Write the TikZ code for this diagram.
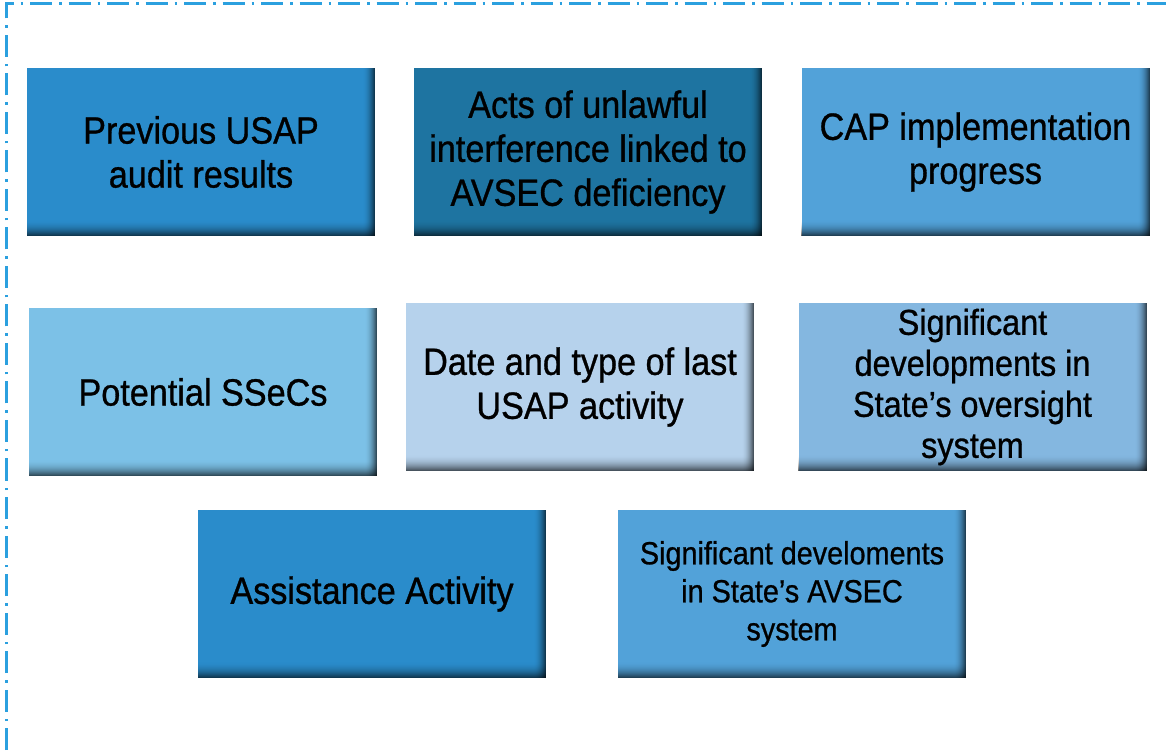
\documentclass[tikz,border=0pt]{standalone}
\usepackage{fontspec}
\setmainfont[FakeStretch=0.9, FakeBold=0.8]{Liberation Sans}
\definecolor{cMid}{HTML}{2A8CCB}
\definecolor{cDark}{HTML}{1E74A1}
\definecolor{cSky}{HTML}{52A2D9}
\definecolor{cLight}{HTML}{7CC1E7}
\definecolor{cPale}{HTML}{B6D2EC}
\definecolor{cSoft}{HTML}{84B7E0}
\definecolor{frameblue}{HTML}{2BA0DF}
\tikzset{
  panel/.style={fill=#1, draw=none, minimum width=348pt, minimum height=168pt, inner sep=0pt},
  labeltext/.style={align=center, text=black, inner sep=0pt},
  frameline/.style={draw=frameblue, line width=3pt, dash pattern=on 22pt off 7pt on 2.5pt off 7pt},
  big/.style={font=\fontsize{38}{44}\selectfont},
  mid/.style={font=\fontsize{36}{41}\selectfont},
  small/.style={font=\fontsize{32}{38}\selectfont}
}
\newcommand\panelbox[6]{%
  \node[panel=#4] (#1) at (#2,#3) {};
  \foreach \i in {1,...,12}{%
    \pgfmathsetmacro\op{0.6*(\i/12)^2}%
    \fill[black, opacity=\op] ([xshift={(\i-13)*1pt}]#1.north east) rectangle ([xshift={(\i-12)*1pt}]#1.south east);
  }
  \foreach \j in {1,...,16}{%
    \pgfmathsetmacro\op{0.6*(\j/16)^2}%
    \fill[black, opacity=\op] ([yshift={(17-\j)*1pt}]#1.south west) rectangle ([yshift={(16-\j)*1pt}]#1.south east);
  }
  \draw[white, opacity=0.5, line width=0.8pt] (#1.north west) -- (#1.north east);
  \node[labeltext, #5] (#1t) at (#1.center) {#6};
}
\begin{document}
\begin{tikzpicture}[x=1pt,y=1pt]
\useasboundingbox (0,0) rectangle (1166,750);
\fill[white] (0,0) rectangle (1166,750);
\coordinate (fb) at (6,0);
\coordinate (fc) at (6,746);
\coordinate (fr) at (1166,746);
\draw[frameline] (fb) -- (fc) -- (fr);

\panelbox{b1}{201}{598}{cMid}{big}{Previous USAP\\audit results}
\panelbox{b2}{588}{598}{cDark}{big}{Acts of unlawful\\interference linked to\\AVSEC deficiency}
\panelbox{b3}{975.5}{598}{cSky}{big}{CAP implementation\\progress}
\panelbox{b4}{203}{358}{cLight}{big}{Potential SSeCs}
\panelbox{b5}{580}{363}{cPale}{big}{Date and type of last\\USAP activity}
\panelbox{b6}{972.5}{363}{cSoft}{mid}{Significant\\developments in\\State’s oversight\\system}
\panelbox{b7}{372}{156}{cMid}{big}{Assistance Activity}
\panelbox{b8}{792}{156}{cSky}{small}{Significant develoments\\in State’s AVSEC\\system}
\end{tikzpicture}
\end{document}
